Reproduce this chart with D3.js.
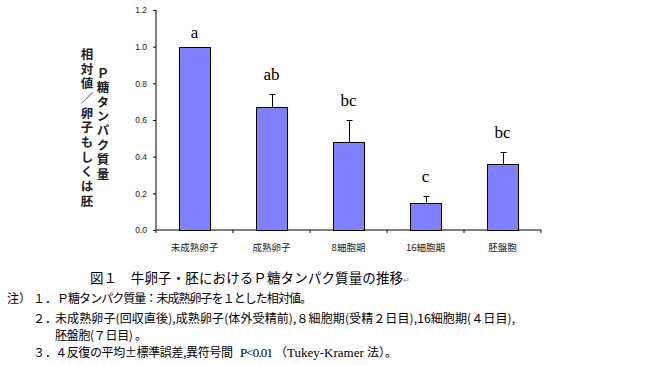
<!DOCTYPE html>
<html lang="ja">
<head>
<meta charset="UTF-8">
<title>P糖タンパク質量</title>
<script src="https://d3js.org/d3.v7.min.js"></script>
<style>
  html, body { margin: 0; padding: 0; background: #fff; }
  svg { display: block; }
  .vt { writing-mode: vertical-rl; text-orientation: upright; }
</style>
</head>
<body>
<svg id="chart" width="649" height="365"></svg>
<script>
// data
var stages = ['未成熟卵子', '成熟卵子', '8細胞期', '16細胞期', '胚盤胞']
var means = [1.0, 0.67, 0.48, 0.15, 0.36]
var errs = [0.0, 0.07, 0.12, 0.035, 0.065]
var letters = ['a', 'ab', 'bc', 'c', 'bc']
var yTicks = [0, 0.2, 0.4, 0.6, 0.8, 1.0, 1.2]

var barFill = '#8080ff'
var sans = 'Arial, "Liberation Sans", sans-serif'
var jp = '"Noto Sans CJK JP", sans-serif'
var serif = '"Liberation Serif", "Times New Roman", serif'

var svg = d3.select('#chart')

var x = d3.scaleBand().domain(stages).range([156, 541])
    .paddingInner(0.6).paddingOuter(0.3)
var y = d3.scaleLinear().domain([0, 1.2]).range([230, 10])

// y axis
var yAxis = svg.append('g').attr('transform', 'translate(156,0)')
    .call(d3.axisLeft(y).tickValues(yTicks).tickSize(3).tickFormat(d3.format('.1f')))
yAxis.select('.domain').attr('d', 'M0,' + y(1.2) + 'V' + y(0)).attr('stroke', '#000')
yAxis.selectAll('.tick line').attr('stroke', '#000')
yAxis.selectAll('.tick text').attr('x', -9).attr('font-family', sans)
    .attr('font-size', 8.5).attr('fill', '#222')

// x axis: ticks between categories
var step = x.step()
var bounds = d3.range(stages.length + 1).map(function (i) { return 156 + i * step })
var xg = svg.append('g')
xg.append('line').attr('x1', 156).attr('x2', 541).attr('y1', y(0)).attr('y2', y(0))
    .attr('stroke', '#000')
xg.selectAll('line.tk').data(bounds).enter().append('line').attr('class', 'tk')
    .attr('x1', function (d) { return d }).attr('x2', function (d) { return d })
    .attr('y1', y(0)).attr('y2', y(0) + 3).attr('stroke', '#000')
xg.selectAll('text').data(stages).enter().append('text')
    .attr('x', function (d) { return x(d) + x.bandwidth() / 2 })
    .attr('y', 251)
    .attr('text-anchor', 'middle')
    .attr('font-family', jp).attr('font-size', 9.5).attr('fill', '#222')
    .text(function (d) { return d })

// error bars (drawn under the bars)
var rows = stages.map(function (s, i) {
    return {s: s, m: means[i], e: errs[i], l: letters[i]}
})
var eb = svg.append('g').attr('stroke', '#000').attr('stroke-width', 1)
rows.filter(function (d) { return d.e > 0 }).forEach(function (d) {
    var cx = Math.round(x(d.s) + x.bandwidth() / 2) + 0.5
    eb.append('line').attr('x1', cx).attr('x2', cx)
        .attr('y1', y(d.m)).attr('y2', y(d.m + d.e))
    eb.append('line').attr('x1', cx - 3).attr('x2', cx + 3)
        .attr('y1', Math.round(y(d.m + d.e)) + 0.5).attr('y2', Math.round(y(d.m + d.e)) + 0.5)
})

// bars
svg.append('g').selectAll('rect').data(rows).enter().append('rect')
    .attr('x', function (d) { return Math.round(x(d.s)) + 0.5 })
    .attr('y', function (d) { return Math.round(y(d.m)) + 0.5 })
    .attr('width', Math.round(x.bandwidth()))
    .attr('height', function (d) { return Math.round(y(0)) - Math.round(y(d.m)) })
    .attr('fill', barFill).attr('stroke', '#000').attr('stroke-width', 1)

// significance letters
svg.append('g').selectAll('text').data(rows).enter().append('text')
    .attr('x', function (d) { return x(d.s) + x.bandwidth() / 2 })
    .attr('y', function (d) { return y(d.m + d.e) - (d.e > 0 ? 14 : 9) })
    .attr('text-anchor', 'middle')
    .attr('font-family', serif).attr('font-size', 17).attr('fill', '#000')
    .text(function (d) { return d.l })

// vertical y title, two columns
function vcol(str, cx, top, len) {
    svg.append('text').attr('class', 'vt')
        .attr('x', cx).attr('y', top)
        .attr('font-family', jp).attr('font-weight', 'bold').attr('font-size', 12.5)
        .attr('fill', '#222')
        .attr('textLength', len).attr('lengthAdjust', 'spacing')
        .text(str)
}
vcol('Ｐ糖タンパク質量', 103, 67, 113)
vcol('相対値／卵子もしくは胚', 87, 48, 159)

// caption
var cap = svg.append('text').attr('x', 90).attr('y', 283)
    .attr('font-family', jp).attr('font-size', 13.5).attr('fill', '#000')
cap.append('tspan').attr('textLength', 313).text('図１　牛卵子・胚におけるＰ糖タンパク質量の推移')
cap.append('tspan').attr('font-size', 8).attr('fill', '#888').text('↵')

// notes
function note(str, x0, y0, len, fam) {
    var t = svg.append('text').attr('x', x0).attr('y', y0)
        .attr('font-family', fam || jp).attr('font-size', 12).attr('fill', '#000').text(str)
    if (len) t.attr('textLength', len).attr('lengthAdjust', 'spacing')
    return t
}
note('注）', 7, 303)
note('１．', 33, 303)
note('Ｐ糖タンパク質量：未成熟卵子を１とした相対値。', 57, 303, 255)
note('２．', 33, 323)
note('未成熟卵子(回収直後),成熟卵子(体外受精前),８細胞期(受精２日目),16細胞期(４日目),', 55, 323, 460)
note('胚盤胞(７日目) 。', 55, 340, 92)
note('３．', 33, 357)
note('４反復の平均±標準誤差,異符号間', 55, 357, 178)
note('P<0.01', 240, 357, 33, serif).attr('font-size', 13)
var last = svg.append('text').attr('x', 275).attr('y', 357)
    .attr('font-family', jp).attr('font-size', 12).attr('fill', '#000')
last.append('tspan').text('（')
last.append('tspan').attr('font-family', serif).attr('font-size', 13).text('Tukey-Kramer ')
last.append('tspan').text('法）。')
</script>
</body>
</html>
